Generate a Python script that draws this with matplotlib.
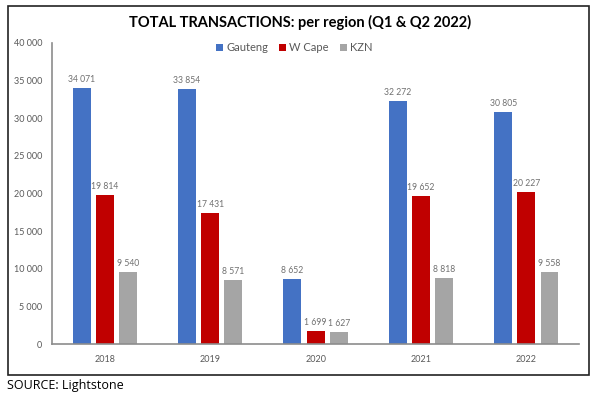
import numpy as np
import matplotlib
matplotlib.use("Agg")
import matplotlib.pyplot as plt
from matplotlib.patches import Rectangle

years = ["2018", "2019", "2020", "2021", "2022"]
gauteng = [34071, 33854, 8652, 32272, 30805]
w_cape = [19814, 17431, 1699, 19652, 20227]
kzn = [9540, 8571, 1627, 8818, 9558]

series = [("Gauteng", gauteng, "#4472C4"),
          ("W Cape", w_cape, "#C00000"),
          ("KZN", kzn, "#A5A5A5")]


def fmt(v):
    """ thousands with a space """
    return "{:,}".format(v).replace(",", " ")


plt.rcParams["font.family"] = ["Lato", "DejaVu Sans"]

fig = plt.figure(figsize=(6, 4), dpi=100)
ax = fig.add_axes([0.087, 0.14, 0.878, 0.7525])

x = np.arange(len(years))
width = 0.17
step = 0.22
for i, (name, vals, col) in enumerate(series):
    pos = x + (i - 1) * step
    ax.bar(pos, vals, width, color=col, label=name)
    for p, v in zip(pos, vals):
        ax.text(p, v + 500, fmt(v), ha="center", va="bottom",
                fontsize=6.2, color="#707070")

ax.set_ylim(0, 40000)
ax.set_xlim(-0.5, len(years) - 0.5)
ax.set_yticks(range(0, 40001, 5000))
ax.set_yticklabels([fmt(t) for t in range(0, 40001, 5000)])
ax.set_xticks(x)
ax.set_xticklabels(years)
ax.tick_params(length=0, labelsize=6.5, colors="#595959", pad=8)
ax.tick_params(axis="y", pad=7)
for s in ["top", "right"]:
    ax.spines[s].set_visible(False)
ax.spines["left"].set_color("#8c8c8c")
ax.spines["bottom"].set_color("#8c8c8c")
ax.spines["left"].set_linewidth(1.2)
ax.spines["bottom"].set_linewidth(1.2)

ax.legend(loc="upper center", bbox_to_anchor=(0.46, 1.035), ncol=3,
          frameon=False, fontsize=8, handlelength=0.6, handleheight=0.6,
          handletextpad=0.3, columnspacing=1.0, labelcolor="#595959")

fig.text(0.5, 0.945, "TOTAL TRANSACTIONS: per region (Q1 & Q2 2022)",
         ha="center", va="center", fontsize=10.5, fontweight="bold")

fig.patches.append(Rectangle((0.013, 0.0625), 0.968, 0.922,
                             transform=fig.transFigure, fill=False,
                             edgecolor="#222222", linewidth=1.2))

fig.text(0.012, 0.035, "SOURCE: Lightstone", ha="left", va="center",
         fontsize=9, family=["Open Sans", "DejaVu Sans"])

fig.savefig("out.png", dpi=100)
